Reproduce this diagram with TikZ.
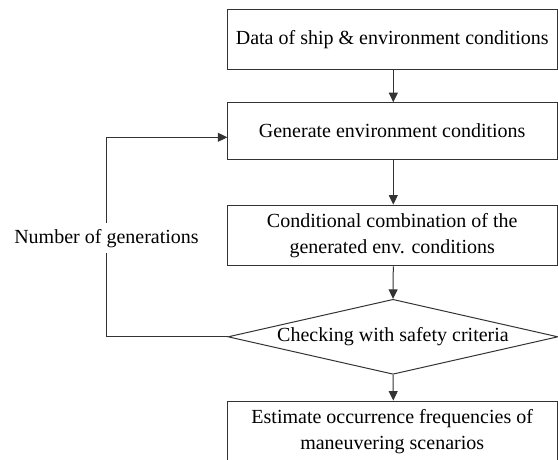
\documentclass[tikz,border=0pt]{standalone}
\usepackage{fontspec}
\setmainfont{Liberation Serif}
\usetikzlibrary{shapes.geometric,arrows.meta}
\begin{document}
\begin{tikzpicture}[x=1pt,y=-1pt,
  every node/.style={font=\fontsize{20}{25.5}\selectfont},
  box/.style={draw=black!80,line width=1pt,rectangle,minimum width=329.7pt,align=center,inner sep=0pt},
  dia/.style={draw=black!80,line width=1pt,diamond,minimum width=330pt,minimum height=75pt,inner sep=0pt},
  arr/.style={draw=black!80,line width=1pt,-{Triangle[length=9.5pt,width=9pt]}},
  lbl/.style={fill=white,inner xsep=0pt,inner ysep=5.5pt,anchor=base}]
\useasboundingbox (0,0) rectangle (558,459);
\node[box,minimum height=60pt] (data) at (392.2,39.3) {Data of ship \& environment conditions};
\node[box,minimum height=56.6pt] (gen) at (392.2,131) {Generate environment conditions};
\node[box,minimum height=60.7pt] (comb) at (392.2,235.4) {Conditional combination of the\\generated env. conditions};
\node[dia] (chk) at (393,336.8) {};
\node (chktxt) at (chk.center) {Checking with safety criteria};
\node[box,minimum height=60.7pt] (est) at (392.2,431.4) {Estimate occurrence frequencies of\\maneuvering scenarios};
\coordinate (gin) at (227.3,137.3);
\coordinate (lx) at (106.7,336.8);
\draw[arr] (data.south -| 393.3,0) -- (gen.north -| 393.3,0);
\draw[arr] (gen.south -| 393.3,0) -- (comb.north -| 393.3,0);
\draw[arr] (comb.south -| 393.3,0) -- (chk.north);
\draw[arr] (chk.south) -- (est.north -| 393.3,0);
\draw[arr] (chk.west) -- (lx) |- (gin);
\node[lbl] (ngen) at (106.5,243) {Number of generations};
\end{tikzpicture}
\end{document}
